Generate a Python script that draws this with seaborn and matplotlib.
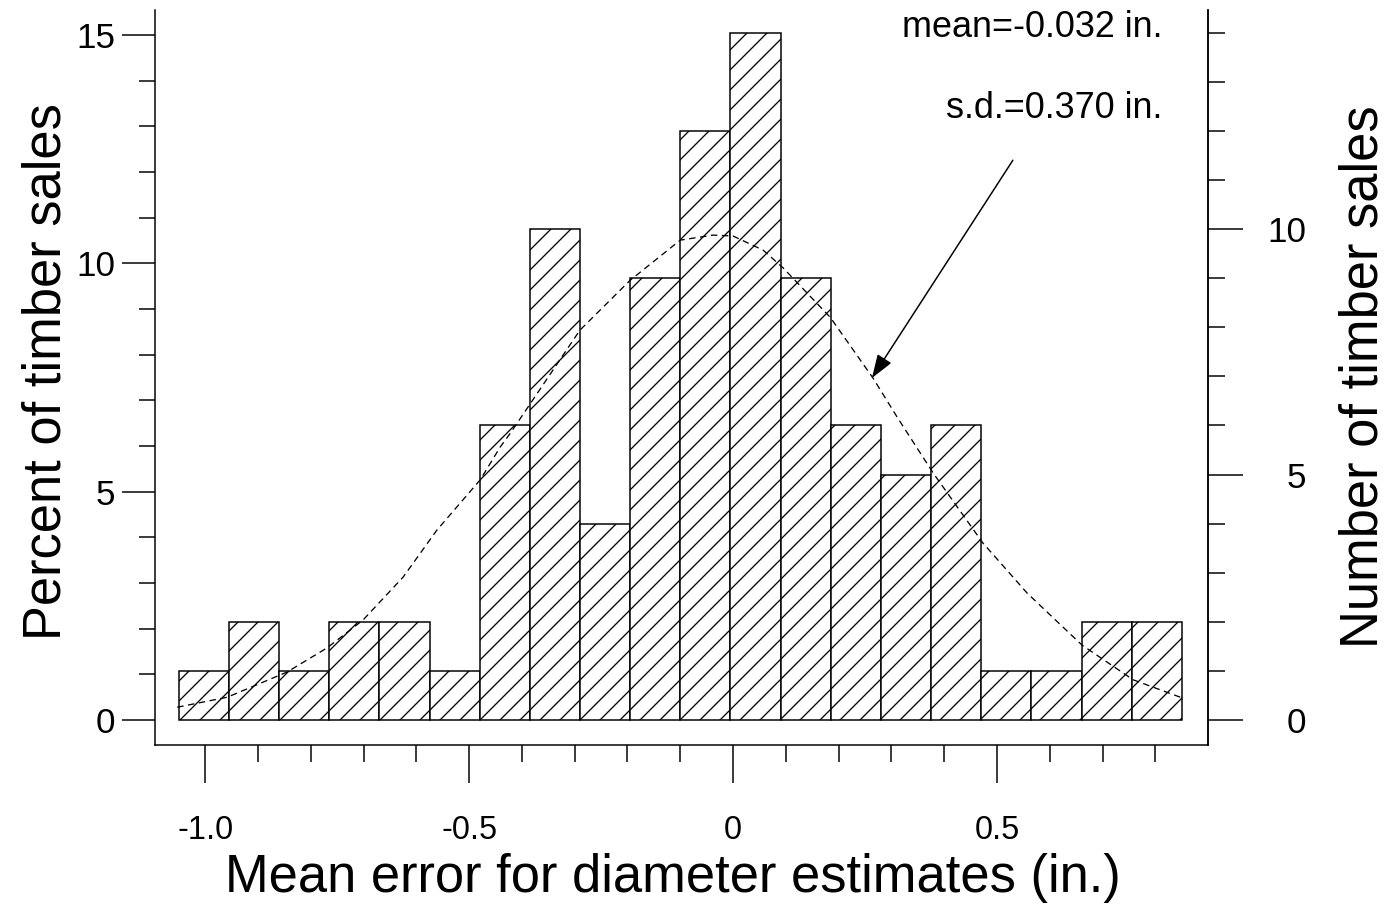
import numpy as np
import pandas as pd
import matplotlib
matplotlib.use("Agg")
import matplotlib.pyplot as plt
from matplotlib.ticker import FixedLocator, MultipleLocator
import seaborn as sns

# ---------------- data ----------------
bin_edges = [-1.05, -0.955, -0.86, -0.765, -0.67, -0.575, -0.48, -0.385, -0.29,
             -0.195, -0.10, -0.005, 0.09, 0.185, 0.28, 0.375, 0.47, 0.565,
             0.66, 0.755, 0.85]
counts = [1, 2, 1, 2, 2, 1, 6, 10, 4, 9, 12, 14, 9, 6, 5, 6, 1, 1, 2, 2]
n_total = 93  # number of sales implied by the two y scales

curve_x = [-1.053, -0.958, -0.845, -0.769, -0.701, -0.625, -0.561, -0.479, -0.441,
           -0.422, -0.290, -0.195, -0.100, -0.038, 0.0, 0.057, 0.095, 0.184,
           0.265, 0.311, 0.379, 0.473, 0.557, 0.661, 0.758, 0.847]
curve_pct = [0.28, 0.50, 1.05, 1.58, 2.19, 3.13, 4.16, 5.26, 5.98,
             6.28, 8.54, 9.63, 10.51, 10.62, 10.60, 10.29, 9.90, 8.82,
             7.49, 6.63, 5.41, 3.88, 2.78, 1.64, 0.88, 0.50]

x_major = [-1.0, -0.5, 0.0, 0.5]
x_major_labels = ["-1.0", "-0.5", "0", "0.5"]
pct_major = [0, 5, 10, 15]
cnt_major = [0, 5, 10]

mean_text = "mean=-0.032 in."
sd_text = "s.d.=0.370 in."
xlabel = "Mean error for diameter estimates (in.)"
ylabel_left = "Percent of timber sales"
ylabel_right = "Number of timber sales"

# ---------------- style ----------------
DPI = 120  # hatch '//' then repeats every 20 px, as in the reference


def pt(px):
    """pixels -> points at the figure dpi"""
    return px * 72.0 / DPI


sns.set_style("ticks")
plt.rcParams["font.family"] = ["Liberation Sans", "DejaVu Sans"]
plt.rcParams["hatch.color"] = "black"
plt.rcParams["hatch.linewidth"] = pt(1.3)
for k in ["text.color", "axes.labelcolor", "xtick.color", "ytick.color",
          "axes.edgecolor"]:
    plt.rcParams[k] = "black"

fig = plt.figure(figsize=(1397 / DPI, 910 / DPI), dpi=DPI)
ax = fig.add_axes([155 / 1397, 1 - 745 / 910, (1208 - 155) / 1397, (745 - 10) / 910])

edges = list(bin_edges)
centers = [(a + b) / 2 for a, b in zip(bin_edges[:-1], bin_edges[1:])]
pct = [c / n_total * 100 for c in counts]
df = pd.DataFrame({"x": centers, "pct": pct})

sns.histplot(data=df, x="x", weights="pct", bins=edges, ax=ax,
             stat="count", fill=True, color="white", facecolor="white",
             edgecolor="black", linewidth=pt(1.5), alpha=1, hatch="//")

cdf = pd.DataFrame({"x": curve_x, "y": curve_pct})
lw_curve = pt(1.3)
sns.lineplot(data=cdf, x="x", y="y", ax=ax, color="black", linewidth=lw_curve,
             linestyle=(0, (pt(6.5) / lw_curve, pt(4.5) / lw_curve)),
             errorbar=None, sort=False)

xlim = (-1.095, 0.8996)
ylim = (-0.547, 15.55)
ax.set_xlim(*xlim)
ax.set_ylim(*ylim)

for s in ["left", "right", "bottom"]:
    ax.spines[s].set_visible(True)
    ax.spines[s].set_linewidth(pt(1.5))
    ax.spines[s].set_color("black")
ax.spines["top"].set_visible(False)

ax.xaxis.set_major_locator(FixedLocator(x_major))
ax.set_xticklabels(x_major_labels)
ax.xaxis.set_minor_locator(FixedLocator([round(v, 1) for v in np.arange(-1.0, 0.85, 0.1)]))
ax.yaxis.set_major_locator(FixedLocator(pct_major))
ax.set_yticklabels([str(v) for v in pct_major])
ax.yaxis.set_minor_locator(MultipleLocator(1))

ax.tick_params(axis="x", which="major", direction="out", length=pt(38), width=pt(1.5),
               pad=pt(32), labelsize=pt(32.5), colors="black")
ax.tick_params(axis="x", which="minor", direction="out", length=pt(17), width=pt(1.5))
ax.tick_params(axis="y", which="major", direction="out", length=pt(33), width=pt(1.5),
               pad=pt(7), labelsize=pt(35), colors="black")
ax.tick_params(axis="y", which="minor", direction="out", length=pt(16), width=pt(1.5))

ax.set_xlabel(xlabel, fontsize=pt(52.5))
ax.xaxis.set_label_coords(0.492, -0.147)
ax.set_ylabel(ylabel_left, fontsize=pt(52.5))
ax.yaxis.set_label_coords(-0.079, 0.5075)

# right axis: number of sales
ax2 = ax.twinx()
ax2.set_ylim(ylim[0] * n_total / 100, ylim[1] * n_total / 100)
ax2.yaxis.set_major_locator(FixedLocator(cnt_major))
ax2.yaxis.set_minor_locator(MultipleLocator(1))
ax2.set_yticklabels([str(v) for v in cnt_major])
ax2.tick_params(axis="y", which="major", direction="out", length=pt(35), width=pt(1.5),
                pad=pt(63), labelsize=pt(35), colors="black")
ax2.tick_params(axis="y", which="minor", direction="out", length=pt(17), width=pt(1.5))
for lbl in ax2.get_yticklabels():
    lbl.set_horizontalalignment("right")
for s in ["left", "top", "bottom"]:
    ax2.spines[s].set_visible(False)
ax2.spines["right"].set_linewidth(pt(1.5))
ax2.spines["right"].set_color("black")
ax2.set_ylabel(ylabel_right, fontsize=pt(52.5), rotation=90)
ax2.yaxis.set_label_coords(1.1244, 0.5007)

# annotations
ax.text(0.8125, 14.96, mean_text, ha="right", va="baseline", fontsize=pt(36))
ax.text(0.8125, 13.18, sd_text, ha="right", va="baseline", fontsize=pt(36))
ax.annotate("", xy=(0.263, 7.49), xytext=(0.530, 12.26),
            arrowprops=dict(arrowstyle="-|>,head_length=1.2,head_width=0.42",
                            color="black", lw=pt(1.5), shrinkA=0, shrinkB=0,
                            mutation_scale=pt(16.7)))

fig.savefig("out.png", dpi=DPI, facecolor="white")
